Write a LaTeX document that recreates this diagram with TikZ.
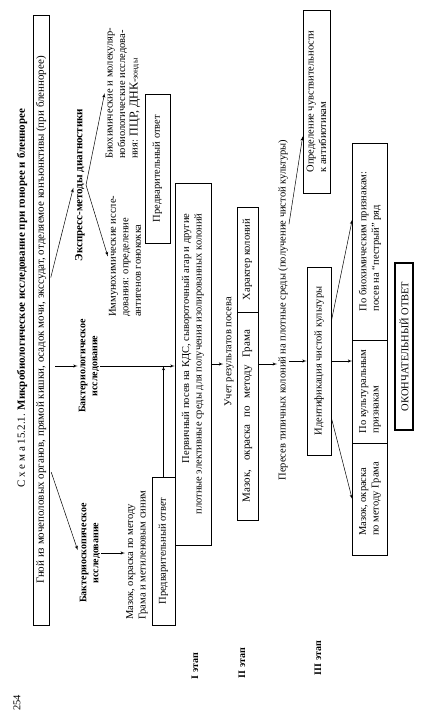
\documentclass[tikz,border=0pt]{standalone}
\usepackage{fontspec}
\setmainfont{Liberation Serif}
\usetikzlibrary{shapes,arrows,calc}
\tikzstyle{block} = [rectangle, draw, rotate=90, inner sep=2pt,
    text centered, line width=0.6pt]
\tikzstyle{txt} = [rotate=90, inner sep=1pt, align=left]
\tikzstyle{head} = [txt, font=\bfseries, align=center]
\tikzstyle{line} = [draw, -latex', line width=0.5pt]

\begin{document}
\begin{tikzpicture}[x=1pt, y=-1pt, font=\fontsize{10.5}{12.5}\selectfont]
    \useasboundingbox (0,0) rectangle (426,718);
    % Title and material
    \node [txt] (pagenum) at (17,703) {254};
    \node [txt, font=\fontsize{11}{13}\selectfont] (title) at (22,298) {С х е м а 15.2.1. \textbf{Микробиологическое исследование при гонорее и бленнорее}};
    \node [block, minimum width=610pt, minimum height=16pt, font=\fontsize{11}{13}\selectfont] (src) at (41,320) {Гной из мочеполовых органов, прямой кишки, осадок мочи, экссудат, отделяемое конъюнктивы (при бленнорее)};
    % Three ways
    \node [head] (bscope) at (90,553) {Бактериоскопическое\\исследование};
    \node [head] (bact) at (89,366) {Бактериологическое\\исследование};
    \node [head, font=\fontsize{11}{13}\selectfont\bfseries] (expr) at (80,185) {Экспресс-методы диагностики};
    \node [txt, anchor=west] (immuno) at (125,318) {Иммунохимические иссле-\\дования: определение\\антигенов гонококка};
    \node [txt, anchor=west] (biochem) at (123,160) {Биохимические и молекуляр-\\нобиологические исследова-\\ния: {\large ПЦР, ДНК}-{\footnotesize зонды}};
    \node [block, minimum width=149pt, minimum height=25pt] (prelim2) at (157.5,168.5) {Предварительный ответ};
    \node [txt, anchor=west] (mazok1) at (137,621) {Мазок, окраска по методу\\Грама и метиленовым синим};
    \node [block, minimum width=148pt, minimum height=23pt] (prelim1) at (163.5,551) {Предварительный ответ};
    % Stages
    \node [block, minimum width=362pt, minimum height=36pt, align=right] (perv) at (193,364) {Первичный посев на КДС, сывороточный агар и другие\\плотные элективные среды для получения изолированных колоний};
    \node [txt] (uchet) at (229,352) {Учет результатов посева};
    \node [block, minimum width=208pt, minimum height=21pt, font=\fontsize{11}{13}\selectfont] (mazok2) at (247.5,416) {\makebox[172pt][s]{Мазок, окраска по методу Грама}};
    \node [block, minimum width=105pt, minimum height=21pt] (harakter) at (247.5,259.5) {Характер колоний};
    \node [txt] (peresev) at (283,310) {Пересев типичных колоний на плотные среды (получение чистой культуры)};
    \node [block, minimum width=183pt, minimum height=27pt, align=left] (opred) at (316.5,101.5) {Определение чувствительности\\к антибиотикам};
    \node [block, minimum width=188pt, minimum height=24pt] (ident) at (319,361) {Идентификация чистой культуры};
    \node [block, minimum width=112pt, minimum height=35pt, align=left] (mazok3) at (370,499) {Мазок, окраска\\по методу Грама};
    \node [block, minimum width=103pt, minimum height=35pt, align=left] (kult) at (370,391.5) {По культуральным\\признакам};
    \node [block, minimum width=197pt, minimum height=35pt, align=left] (bioch2) at (370,241.5) {По биохимическим признакам:\\посев на ``пестрый'' ряд};
    \node [block, minimum width=167pt, minimum height=18pt, line width=1.4pt] (final) at (404,346.5) {ОКОНЧАТЕЛЬНЫЙ ОТВЕТ};
    \node [head] (st1) at (195,666) {I этап};
    \node [head] (st2) at (242,663) {II этап};
    \node [head] (st3) at (318,658) {III этап};
    % Draw edges
    \path [line, shorten <=6pt, shorten >=3pt] ($(src.south west)!0.26!(src.south east)$) -- (bscope.north);
    \path [line, shorten <=6pt] (src.south |- bact) -- (bact.north);
    \path [line, shorten <=6pt, shorten >=3pt] ($(src.south west)!0.56!(src.south east)$) -- (expr.north);
    \path [line] (expr.south) -- (immuno.north);
    \path [line] (expr.south) -- (biochem.north);
    \path [line] (bact.south) -- (bact.south -| perv.north);
    \path [line] (bscope.south) -- (bscope.south -| mazok1.north);
    \path [line] (prelim1.east) -- (prelim1.east |- bact.south);
    \path [line] (perv.south) -- (perv.south -| uchet.north);
    \path [line] (mazok2.south |- perv.south) -- (peresev.north |- perv.south);
    \path [line] (peresev.south |- ident) -- (ident.north);
    \path [line] ($(peresev.south west)!0.75!(peresev.south east)$) -- ($(opred.north west)!0.31!(opred.north east)$);
    \path [line] ($(ident.south west)!0.2!(ident.south east)$) -- (mazok3.north);
    \path [line] (ident.south) -- (ident.south -| kult.north);
    \path [line] ($(ident.south west)!0.71!(ident.south east)$) -- ($(bioch2.north west)!0.61!(bioch2.north east)$);
\end{tikzpicture}
\end{document}
